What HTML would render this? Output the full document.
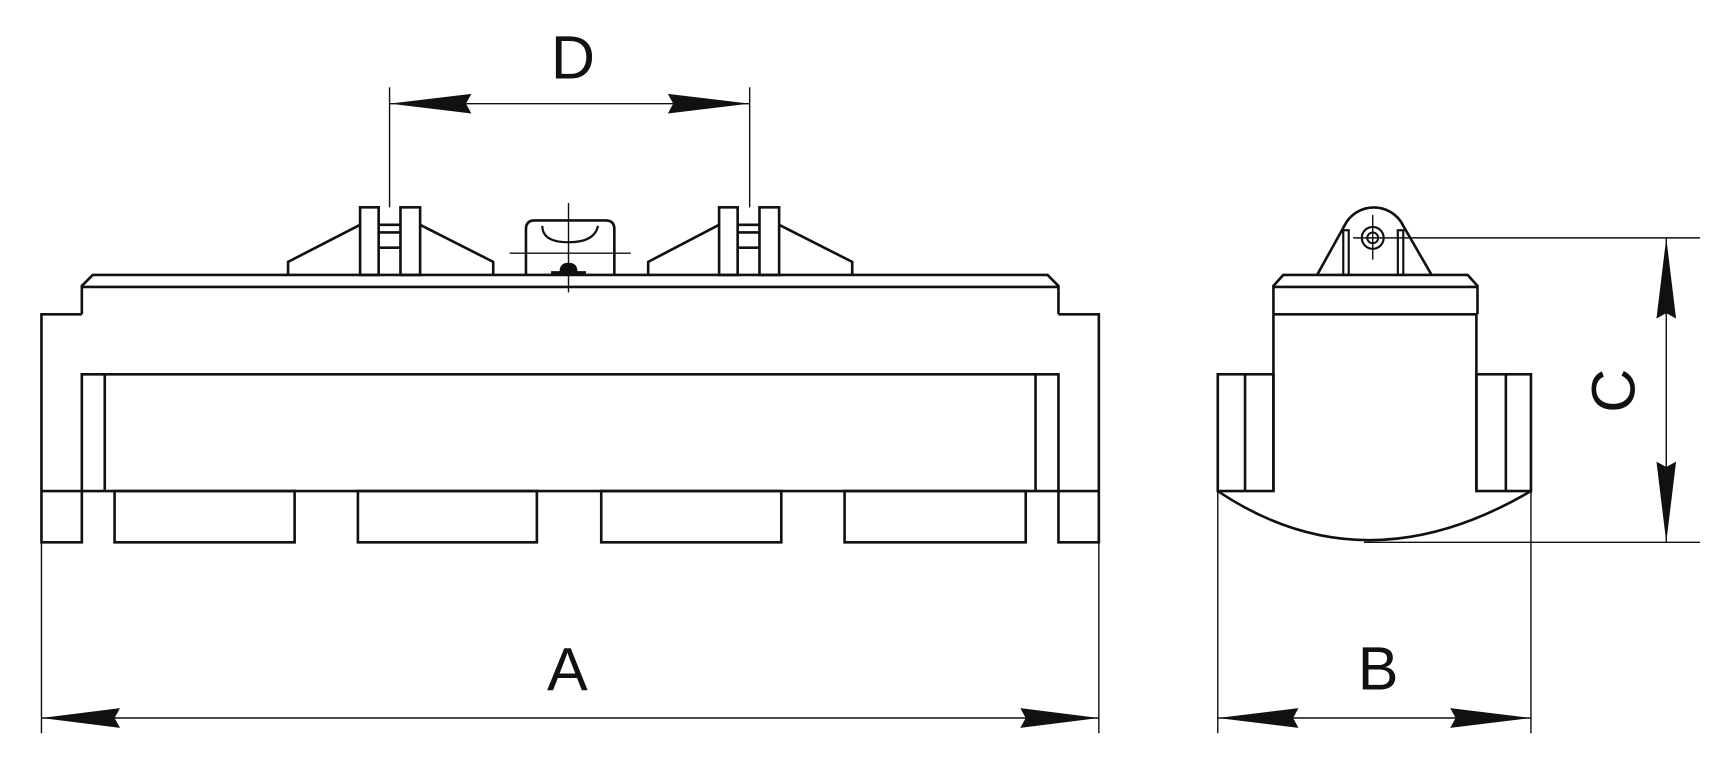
<!DOCTYPE html>
<html><head><style>html,body{margin:0;padding:0;background:#fff}svg{display:block}</style></head><body>
<svg width="1711" height="761" viewBox="0 0 1568 697.4" preserveAspectRatio="none" xmlns="http://www.w3.org/2000/svg">
<g fill="none" stroke="#111" stroke-width="2.4" stroke-linejoin="miter">
<polyline points="75,288 75,262 85,252 960,252 970,262 970,288"/>
<line x1="75" y1="263" x2="970" y2="263"/>
<polyline points="75,288 38,288 38,497 75,497 75,343 970,343 970,497 1007,497 1007,288 970,288"/>
<line x1="38" y1="450" x2="1007" y2="450"/>
<line x1="96" y1="343" x2="96" y2="450"/>
<line x1="949" y1="343" x2="949" y2="450"/>
<rect x="105" y="450" width="165" height="47"/>
<rect x="328" y="450" width="164" height="47"/>
<rect x="551" y="450" width="165" height="47"/>
<rect x="774" y="450" width="166" height="47"/>
<g>
<rect x="330" y="190" width="17" height="62"/>
<rect x="367" y="190" width="18" height="62"/>
<line x1="347" y1="206" x2="367" y2="206"/>
<line x1="347" y1="213" x2="367" y2="213"/>
<line x1="347" y1="227" x2="367" y2="227"/>
<polyline points="264,252 264,240 330,206"/>
<polyline points="385,206 452,240 452,252"/>
</g>
<g transform="translate(329,0)">
<rect x="330" y="190" width="17" height="62"/>
<rect x="367" y="190" width="18" height="62"/>
<line x1="347" y1="206" x2="367" y2="206"/>
<line x1="347" y1="213" x2="367" y2="213"/>
<line x1="347" y1="227" x2="367" y2="227"/>
<polyline points="265,252 265,240 330,206"/>
<polyline points="385,206 452,240 452,252"/>
</g>
<path d="M482,252 L482,210 Q482,202 490,202 L555,202 Q563,202 563,210 L563,252"/>
<path d="M497,207 Q497,222 521,222 Q545,222 548,207" stroke-width="2"/>
<path d="M514,249 Q514,242 521,242 Q528,242 528,249 Z" fill="#111"/>
<line x1="505" y1="250" x2="537" y2="250" stroke-width="3"/>
<polyline points="1167,288 1167,262 1176,252 1345,252 1354,262 1354,288"/>
<line x1="1167" y1="263" x2="1354" y2="263"/>
<line x1="1167" y1="288" x2="1354" y2="288"/>
<polyline points="1167,288 1167,450"/>
<polyline points="1353,288 1353,450"/>
<rect x="1116" y="343" width="51" height="107"/>
<line x1="1141" y1="343" x2="1141" y2="450"/>
<rect x="1353" y="343" width="50" height="107"/>
<line x1="1380" y1="343" x2="1380" y2="450"/>
<path d="M1116,450 Q1250,540 1403,450"/>
<path d="M1207,252 L1232,207 A30,30 0 0 1 1286,207 L1312,252"/>
<rect x="1231" y="211" width="5" height="41" stroke-width="2"/>
<rect x="1281" y="211" width="5" height="41" stroke-width="2"/>
<circle cx="1258" cy="218" r="10" stroke-width="2"/>
<circle cx="1258" cy="218" r="5" stroke-width="1.8"/>
</g>
<g stroke="#111" stroke-width="1.3" fill="none">
<line x1="467" y1="232" x2="578" y2="232"/>
<line x1="521" y1="186" x2="521" y2="268"/>
<line x1="1258" y1="197" x2="1258" y2="238"/>
<line x1="1240" y1="218" x2="1558" y2="218"/>
<line x1="1250" y1="497" x2="1558" y2="497"/>
<line x1="1527" y1="218" x2="1527" y2="497"/>
<line x1="357" y1="80" x2="357" y2="190"/>
<line x1="687" y1="80" x2="687" y2="190"/>
<line x1="357" y1="95" x2="687" y2="95"/>
<line x1="38" y1="497" x2="38" y2="672"/>
<line x1="1007" y1="497" x2="1007" y2="672"/>
<line x1="38" y1="658" x2="1007" y2="658"/>
<line x1="1116" y1="450" x2="1116" y2="672"/>
<line x1="1403" y1="450" x2="1403" y2="672"/>
<line x1="1116" y1="658" x2="1403" y2="658"/>
</g>
<g fill="#111">
<polygon points="357,95 432,86 427,95 432,104"/>
<polygon points="687,95 612,86 617,95 612,104"/>
<polygon points="38,658 110,649 105,658 110,667"/>
<polygon points="1007,658 935,649 940,658 935,667"/>
<polygon points="1116,658 1190,649 1185,658 1190,667"/>
<polygon points="1403,658 1329,649 1334,658 1329,667"/>
<polygon points="1527,218 1518,292 1527,287 1536,292"/>
<polygon points="1527,497 1518,423 1527,428 1536,423"/>
</g>
<g font-family="Liberation Sans, sans-serif" font-size="56" fill="#111" text-anchor="middle">
<text x="525" y="72">D</text>
<text x="520" y="633">A</text>
<text x="1263" y="632">B</text>
</g>
<g transform="translate(1498,358) rotate(-90)">
<text x="0" y="0" font-family="Liberation Sans, sans-serif" font-size="56" fill="#111" text-anchor="middle">C</text>
</g>
</svg>
</body></html>
